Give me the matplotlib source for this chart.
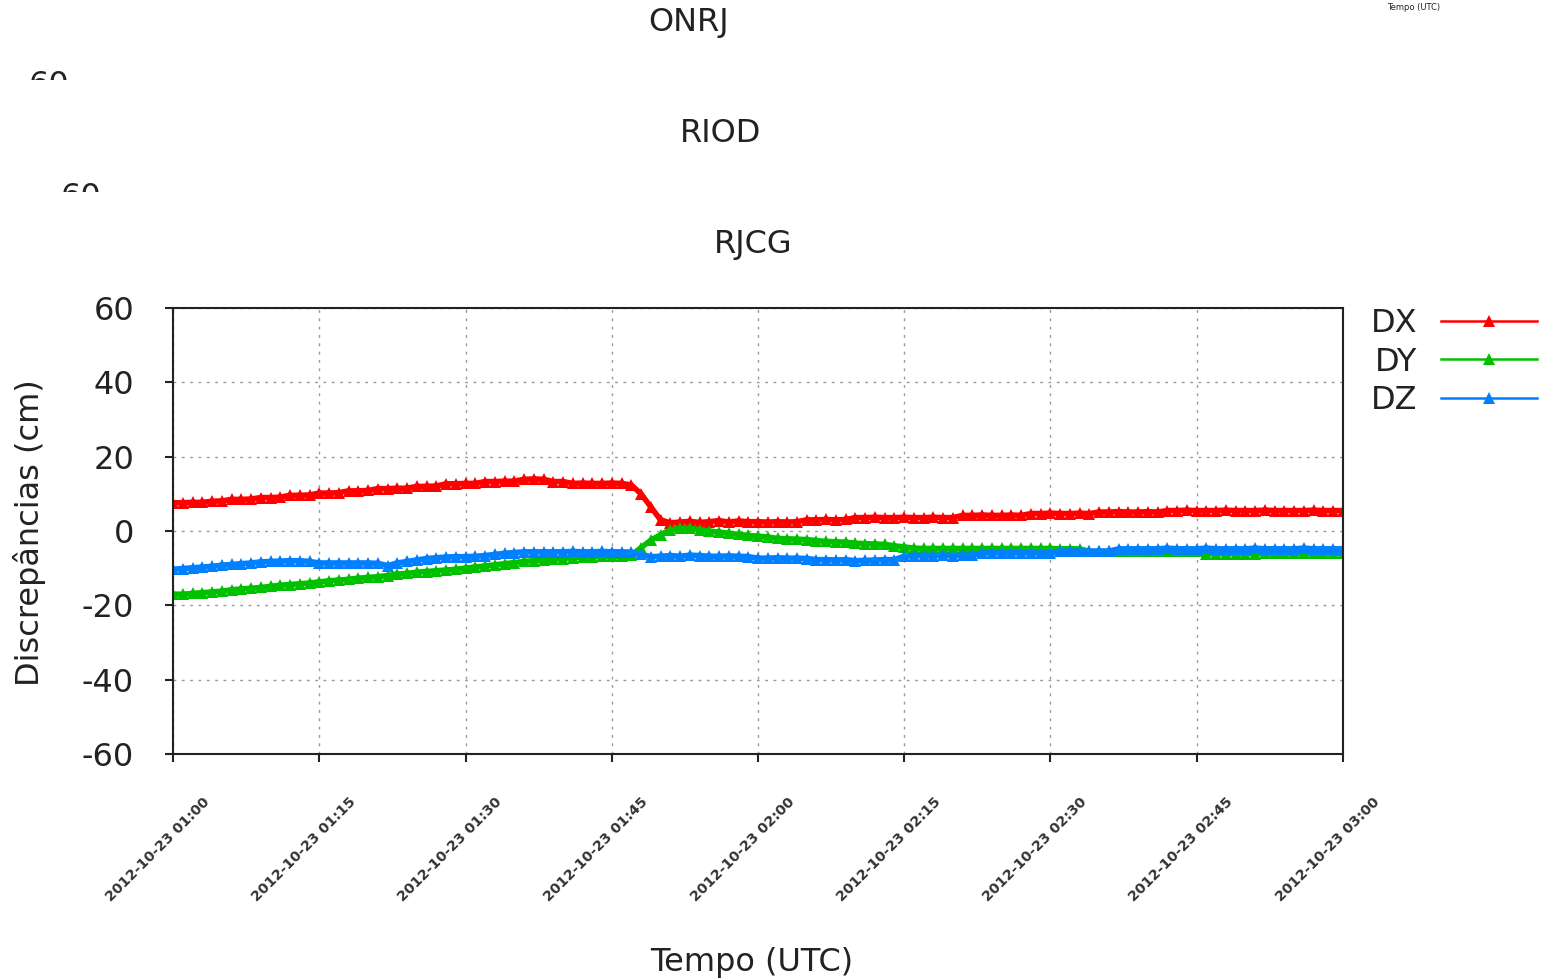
import numpy as np
import pandas as pd
import matplotlib
matplotlib.use('Agg')
import matplotlib.pyplot as plt
import matplotlib.dates as mdates
from matplotlib.transforms import Bbox, TransformedBbox, ScaledTranslation

plt.rcParams['axes.unicode_minus'] = False

# one sample per minute, 01:00 .. 03:00 UTC
times = pd.date_range('2012-10-23 01:00', '2012-10-23 03:00', freq='1min')

dx = [7.6, 7.6, 7.7, 7.7, 8.0, 8.1, 8.5, 8.5, 8.6, 9.0,
      9.0, 9.1, 9.6, 9.6, 9.7, 10.2, 10.2, 10.3, 10.8, 10.8,
      10.9, 11.4, 11.4, 11.5, 11.5, 12.0, 12.0, 12.1, 12.7, 12.7,
      12.8, 12.8, 13.3, 13.3, 13.4, 13.4, 13.9, 14.0, 13.9, 13.3,
      13.3, 12.8, 12.9, 12.8, 12.8, 12.9, 12.8, 12.4, 10.0, 6.5,
      3.0, 2.2, 2.4, 2.6, 2.3, 2.5, 2.8, 2.4, 2.7, 2.5,
      2.5, 2.4, 2.5, 2.4, 2.5, 3.0, 3.0, 3.1, 3.0, 3.1,
      3.6, 3.6, 3.7, 3.6, 3.6, 3.7, 3.6, 3.6, 3.7, 3.6,
      3.6, 4.2, 4.2, 4.3, 4.2, 4.2, 4.3, 4.2, 4.7, 4.7,
      4.8, 4.7, 4.7, 4.8, 4.7, 5.1, 5.1, 5.2, 5.1, 5.1,
      5.2, 5.1, 5.5, 5.5, 5.6, 5.5, 5.5, 5.5, 5.6, 5.5,
      5.5, 5.5, 5.6, 5.5, 5.5, 5.5, 5.5, 5.6, 5.5, 5.5,
      5.5]

dy = [-17.0, -17.0, -16.8, -16.6, -16.4, -16.2, -15.8, -15.6, -15.4, -15.2,
      -14.9, -14.6, -14.4, -14.2, -14.0, -13.7, -13.4, -13.2, -13.0, -12.7,
      -12.5, -12.3, -12.0, -11.6, -11.4, -11.1, -10.9, -10.7, -10.5, -10.3,
      -10.0, -9.7, -9.4, -9.1, -8.8, -8.5, -8.2, -8.0, -7.8, -7.6,
      -7.4, -7.2, -7.0, -6.9, -6.8, -6.8, -6.8, -6.5, -4.5, -2.5,
      -1.0, 0.3, 0.7, 0.7, 0.4, 0.0, -0.3, -0.6, -0.9, -1.2,
      -1.4, -1.6, -2.0, -2.1, -2.2, -2.3, -2.6, -2.8, -2.9, -3.0,
      -3.3, -3.4, -3.5, -3.6, -4.0, -4.3, -4.6, -4.7, -4.7, -4.7,
      -4.7, -4.7, -4.7, -4.7, -4.7, -4.7, -4.7, -4.7, -4.7, -4.7,
      -4.7, -4.8, -4.8, -4.8, -5.5, -5.5, -5.5, -5.5, -5.5, -5.5,
      -5.5, -5.5, -5.5, -5.5, -5.5, -5.5, -6.1, -6.1, -6.1, -6.1,
      -6.1, -6.1, -6.0, -6.0, -6.0, -6.0, -6.0, -6.0, -6.0, -6.0,
      -6.0]

dz = [-10.3, -10.1, -9.9, -9.7, -9.5, -9.2, -9.0, -8.8, -8.6, -8.3,
      -8.2, -8.1, -8.0, -8.0, -8.2, -8.6, -8.6, -8.6, -8.6, -8.6,
      -8.6, -8.7, -9.3, -8.6, -8.2, -7.8, -7.4, -7.2, -7.0, -6.9,
      -6.9, -6.8, -6.6, -6.3, -6.0, -5.8, -5.6, -5.6, -5.6, -5.6,
      -5.6, -5.5, -5.6, -5.6, -5.5, -5.6, -5.6, -5.7, -6.3, -6.9,
      -6.8, -6.6, -6.8, -6.5, -6.6, -6.8, -6.8, -6.7, -6.8, -6.9,
      -7.3, -7.3, -7.2, -7.3, -7.3, -7.4, -7.7, -7.7, -7.8, -7.7,
      -8.0, -7.9, -7.8, -7.7, -7.7, -6.8, -6.6, -6.6, -6.6, -6.5,
      -6.6, -6.5, -6.5, -5.9, -5.9, -5.9, -5.9, -5.8, -5.9, -5.9,
      -5.9, -5.4, -5.4, -5.4, -5.4, -5.4, -5.4, -4.8, -4.8, -4.8,
      -4.8, -4.8, -4.6, -4.8, -4.8, -4.8, -4.6, -4.8, -4.8, -4.8,
      -4.8, -4.6, -4.8, -4.8, -4.8, -4.8, -4.6, -4.8, -4.8, -4.8,
      -4.8]

series = [('DX', dx, '#ff0000'), ('DY', dy, '#00c000'), ('DZ', dz, '#0080ff')]
stations = ['ONRJ', 'RIOD', 'RJCG']

INK = '#222222'
FS = 23

W, H = 1549, 980
fig = plt.figure(figsize=(W / 100, H / 100), dpi=100)
ax = fig.add_axes([173 / W, 1 - 754 / H, 1170 / W, 446 / H])

for name, vals, col in series:
    ax.plot(times, vals, color=col, lw=4, marker='^', ms=8, mew=0, label=name)

ax.set_xlim(times[0], times[-1])
ax.set_ylim(-60, 60)
ax.set_yticks(np.arange(-60, 61, 20))
ax.xaxis.set_major_locator(mdates.MinuteLocator(byminute=[0, 15, 30, 45]))
ax.xaxis.set_major_formatter(mdates.DateFormatter('%Y-%m-%d %H:%M'))
ax.tick_params(axis='y', labelsize=FS, direction='out', length=6, width=1.5, pad=22, colors=INK)
ax.tick_params(axis='x', direction='out', length=6, width=1.5, labelbottom=False, colors=INK)
ax.grid(True, color='#999999', linestyle=(0, (2, 4)), linewidth=1)
for sp in ax.spines.values():
    sp.set_linewidth(1.5)
    sp.set_color(INK)

# rotated date labels, hung off each tick
shift = ScaledTranslation(0.34, -0.46, fig.dpi_scale_trans)
for t in ax.get_xticks():
    lbl = mdates.num2date(t).strftime('%Y-%m-%d %H:%M')
    ax.text(t, 0, lbl, transform=ax.get_xaxis_transform() + shift,
            rotation=45, rotation_mode='anchor', ha='right', va='center',
            fontsize=10.3, fontweight='bold', color='#333333')

ax.legend(loc='upper left', bbox_to_anchor=(1371 / W, 1 - 308 / H),
          bbox_transform=fig.transFigure, frameon=False, markerfirst=False,
          fontsize=FS, handlelength=3.0, handletextpad=0.75, labelspacing=0.24,
          numpoints=1, borderpad=0, borderaxespad=0, labelcolor=INK)
for h in ax.get_legend().legend_handles:
    h.set_linewidth(1.8)
    h.set_markersize(9)

fig.text(30 / W, 1 - 533 / H, 'Discrepâncias (cm)', rotation=90, ha='center', va='center',
         fontsize=FS, color=INK)
fig.text(752 / W, 1 - 962 / H, 'Tempo (UTC)', ha='center', va='center', fontsize=FS, color=INK)
fig.text(1414 / W, 1 - 8 / H, 'Tempo (UTC)', ha='center', va='center', fontsize=6, color=INK)

# stacked panels: only the titles and the tops of the upper "60" labels show
title_pos = [(689, 22), (721, 134), (753, 245)]
for st, (tx, ty) in zip(stations, title_pos):
    fig.text(tx / W, 1 - ty / H, st, ha='center', va='center', fontsize=FS, color=INK)
for (tx, ty) in title_pos[:2]:
    lx, ly = tx - 640, ty + 63
    lab = fig.text(lx / W, 1 - ly / H, '60', ha='center', va='center', fontsize=FS, color=INK)
    clip = TransformedBbox(Bbox.from_extents(0, 1 - (ty + 58) / H, 1, 1 - (ty - 30) / H), fig.transFigure)
    lab.set_clip_box(clip)
    lab.set_clip_on(True)

fig.savefig('out.png', dpi=100)
